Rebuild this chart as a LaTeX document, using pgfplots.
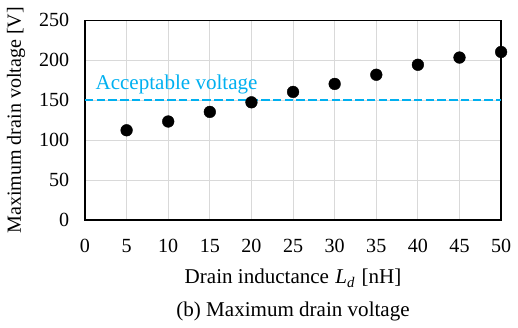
\documentclass[border=0pt]{standalone}
\usepackage{fontspec}
\setmainfont{Liberation Serif}
\usepackage{pgfplots}
\pgfplotsset{compat=1.18}
\definecolor{accblue}{HTML}{00B0F0}
\definecolor{gridgray}{HTML}{D9D9D9}
\begin{document}
\fontsize{21}{25}\selectfont
\begin{tikzpicture}
\begin{axis}[
  scale only axis,
  width=425pt, height=204pt,
  xmin=0, xmax=50, ymin=0, ymax=250,
  xtick={0,5,...,50}, ytick={0,50,...,250},
  grid=major,
  major grid style={draw=gridgray, line width=1pt},
  axis line style={black, line width=1.4pt},
  tick style={draw=none},
  /pgf/number format/assume math mode=true,
  ticklabel style={font=\fontsize{20.5}{24}\selectfont},
  xticklabel style={yshift=-12pt},
  yticklabel style={xshift=-9pt},
  xlabel={Drain inductance\hspace{1pt} \textit{L}\textsubscript{\textit{d}}\hspace{1.5pt} [nH]\\[8pt](b) Maximum drain voltage},
  xlabel style={align=center, yshift=-3pt, font=\fontsize{21.5}{25}\selectfont},
  ylabel={Maximum drain voltage [V]},
  ylabel style={yshift=0pt, font=\fontsize{20.5}{24}\selectfont},
  clip=false,
]
\addplot[accblue, line width=2.4pt, dash pattern=on 8.5pt off 3.5pt] coordinates {(0,150) (50,150)};
\addplot[only marks, mark=*, mark size=6pt, black] coordinates {
(5,112.5) (10,123.5) (15,135.5) (20,147.5) (25,160.5) (30,170.5) (35,182) (40,194.5) (45,203.5) (50,210.5)};
\node[accblue, anchor=base west, font=\fontsize{21.5}{25}\selectfont, inner sep=0pt] at (axis cs:1.25,164) {Acceptable voltage};
\end{axis}
\end{tikzpicture}
\end{document}
